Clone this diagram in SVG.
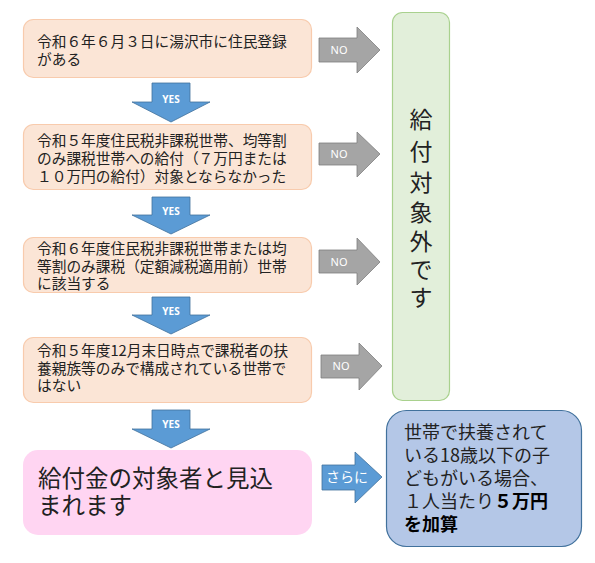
<svg xmlns="http://www.w3.org/2000/svg" width="595" height="563" viewBox="0 0 595 563">
<style>
.box{fill:#fbe5d6;stroke:#f8cbad;stroke-width:1.2}
.t{font-family:"Noto Sans CJK JP","Noto Sans",sans-serif;fill:#222}
.s{font-size:14.7px}
.yes{fill:#5b9bd5;stroke:#41719c;stroke-width:0.8}
.no{fill:#a5a5a5;stroke:#7f7f7f;stroke-width:0.8}
.yl{font-family:"Noto Sans","Liberation Sans",sans-serif;font-size:10px;font-weight:bold;fill:#fff;text-anchor:middle}
.nl{font-family:"Noto Sans","Liberation Sans",sans-serif;font-size:11px;fill:#fff;text-anchor:middle}
</style>
<rect width="595" height="563" fill="#fff"/>
<g id="node1"><rect class="box" x="23.5" y="19.5" width="288" height="58" rx="10"/>
<text class="t s" x="37" y="47">令和６年６月３日に湯沢市に住民登録<tspan x="37" dy="18">がある</tspan></text></g>
<g id="node2"><rect class="box" x="23.5" y="124.5" width="288" height="65" rx="10"/>
<text class="t s" x="37" y="146">令和５年度住民税非課税世帯、均等割<tspan x="37" dy="18">のみ課税世帯への給付（７万円または</tspan><tspan x="37" dy="18">１０万円の給付）対象とならなかった</tspan></text></g>
<g id="node3"><rect class="box" x="23.5" y="237.5" width="288" height="55" rx="10"/>
<text class="t s" x="37" y="254">令和６年度住民税非課税世帯または均<tspan x="37" dy="18">等割のみ課税（定額減税適用前）世帯</tspan><tspan x="37" dy="17">に該当する</tspan></text></g>
<g id="node4"><rect class="box" x="23.5" y="337.5" width="288" height="65" rx="10"/>
<text class="t s" x="37" y="356">令和５年度12月末日時点で課税者の扶<tspan x="37" dy="18">養親族等のみで構成されている世帯で</tspan><tspan x="37" dy="17">はない</tspan></text></g>
<g id="node5"><rect x="23" y="450" width="289" height="85" rx="15" fill="#ffd5f2"/>
<text class="t" font-size="23.5" x="38" y="487">給付金の対象者と見込<tspan x="38" dy="27">まれます</tspan></text></g>
<g id="node6"><rect x="392.5" y="12.5" width="57" height="388" rx="10" fill="#e2efda" stroke="#a9d18e" stroke-width="1.2"/>
<text class="t" font-size="23" text-anchor="middle" x="421" y="128">給<tspan x="421" dy="32">付</tspan><tspan x="421" dy="31">対</tspan><tspan x="421" dy="30">象</tspan><tspan x="421" dy="29">外</tspan><tspan x="421" dy="28">で</tspan><tspan x="421" dy="28">す</tspan></text></g>
<g id="node7"><rect x="386.5" y="410.5" width="195" height="136" rx="20" fill="#b4c7e7" stroke="#41719c" stroke-width="1.2"/>
<text class="t" font-size="18" x="404" y="439">世帯で扶養されて<tspan x="404" dy="23">いる18歳以下の子</tspan><tspan x="404" dy="23">どもがいる場合、</tspan><tspan x="404" dy="23">１人当たり<tspan font-weight="bold" fill="#000">５万円</tspan></tspan><tspan x="404" dy="23" font-weight="bold" fill="#000">を加算</tspan></text></g>
<g id="connectors">
<polygon class="yes" points="152,83 190,83 190,102 210,102 171,122 132,102 152,102"/>
<text class="yl" x="171" y="103">YES</text>
<polygon class="yes" points="152,197 190,197 190,215 210,215 171,234 132,215 152,215"/>
<text class="yl" x="171" y="215">YES</text>
<polygon class="yes" points="152,297 190,297 190,315 210,315 171,334 132,315 152,315"/>
<text class="yl" x="171" y="315">YES</text>
<polygon class="yes" points="152,410 190,410 190,429 210,429 171,448 132,429 152,429"/>
<text class="yl" x="171" y="428">YES</text>
<polygon class="no" points="319,38 357,38 357,27 380,50 357,73 357,62 319,62"/>
<text class="nl" x="339" y="54">NO</text>
<polygon class="no" points="319,143 357,143 357,132 380,154 357,177 357,165 319,165"/>
<text class="nl" x="339" y="158">NO</text>
<polygon class="no" points="319,250 357,250 357,238 380,262 357,285 357,273 319,273"/>
<text class="nl" x="339" y="266">NO</text>
<polygon class="no" points="321,355 359,355 359,343 382,366 359,390 359,378 321,378"/>
<text class="nl" x="341" y="370">NO</text>
<polygon class="yes" points="322,465 355,465 355,452 382,477 355,503 355,490 322,490"/>
<text x="347" y="482" text-anchor="middle" font-family="Noto Sans CJK JP,sans-serif" font-size="14" fill="#fff">さらに</text>
</g>
</svg>
